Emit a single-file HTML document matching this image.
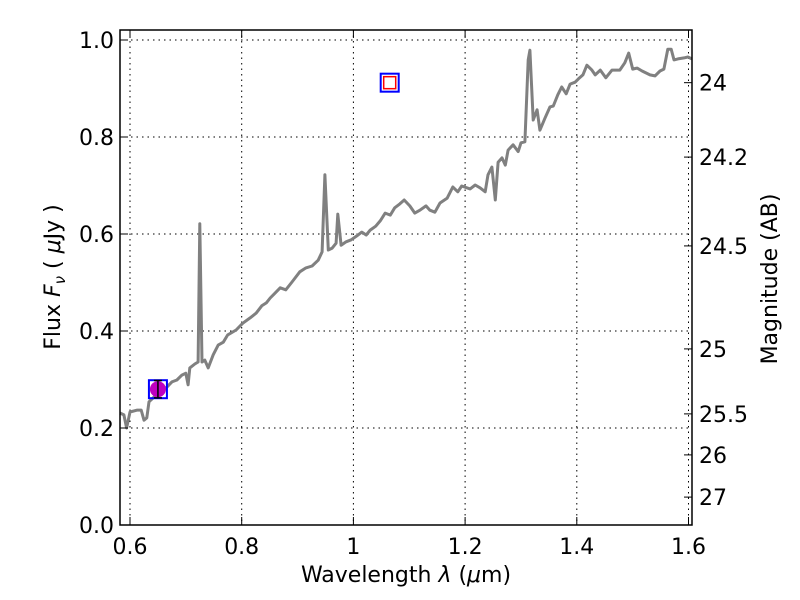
<!DOCTYPE html>
<html><head><meta charset="utf-8"><style>
html,body{margin:0;padding:0;background:#fff;}
svg{display:block;font-family:"DejaVu Sans","Liberation Sans",sans-serif;}
</style></head><body>
<svg id="chart" width="800" height="600" viewBox="0 0 800 600" xmlns="http://www.w3.org/2000/svg">
<rect x="0" y="0" width="800" height="600" fill="#fff"/>
<g id="grid"></g>
<g id="series"></g>
<g id="markers"></g>
<rect x="120" y="30" width="572" height="495" fill="none" stroke="#000" stroke-width="1.5"/>
<g id="axes"></g>
<text x="406" y="582" font-size="22" text-anchor="middle">Wavelength  <tspan font-style="italic">λ</tspan> (<tspan font-style="italic">μ</tspan>m)</text>
<text transform="translate(60,277) rotate(-90)" font-size="22" text-anchor="middle">Flux  <tspan font-style="italic">F</tspan><tspan font-style="italic" font-size="15" dy="5">ν</tspan><tspan dy="-5">  ( </tspan><tspan font-style="italic">μ</tspan>Jy )</text>
<text transform="translate(777,279) rotate(-90)" font-size="22" text-anchor="middle">Magnitude (AB)</text>
</svg>
<script>
const xTicks = [0.6, 0.8, 1.0, 1.2, 1.4, 1.6];
const xTickLabels = ["0.6", "0.8", "1", "1.2", "1.4", "1.6"];
const yTicks = [0, 0.2, 0.4, 0.6, 0.8, 1.0];
const yTickLabels = ["0.0", "0.2", "0.4", "0.6", "0.8", "1.0"];
const magTicks = [24, 24.2, 24.5, 25, 25.5, 26, 27];
const magTickLabels = ["24", "24.2", "24.5", "25", "25.5", "26", "27"];
const specWave = [0.582,0.589,0.594,0.6,0.613,0.620,0.625,0.630,0.634,0.645,0.659,0.675,0.684,0.693,0.700,0.704,0.707,0.716,0.722,0.725,0.729,0.734,0.740,0.749,0.758,0.767,0.775,0.790,0.802,0.815,0.826,0.836,0.844,0.851,0.858,0.869,0.879,0.890,0.904,0.915,0.926,0.937,0.944,0.949,0.955,0.962,0.969,0.972,0.978,0.987,0.996,1.006,1.015,1.023,1.030,1.040,1.048,1.057,1.066,1.074,1.083,1.091,1.101,1.110,1.119,1.130,1.137,1.146,1.155,1.168,1.178,1.187,1.194,1.209,1.218,1.227,1.236,1.241,1.248,1.254,1.259,1.266,1.272,1.277,1.286,1.295,1.300,1.307,1.313,1.316,1.322,1.329,1.334,1.343,1.352,1.358,1.366,1.373,1.381,1.388,1.397,1.403,1.411,1.418,1.427,1.433,1.442,1.452,1.463,1.477,1.486,1.493,1.500,1.508,1.517,1.531,1.540,1.549,1.556,1.563,1.569,1.574,1.581,1.592,1.599,1.606];
const specFlux = [0.231,0.227,0.200,0.233,0.237,0.237,0.216,0.221,0.254,0.266,0.276,0.295,0.299,0.309,0.313,0.289,0.324,0.332,0.336,0.621,0.336,0.340,0.324,0.351,0.371,0.377,0.392,0.402,0.416,0.427,0.437,0.452,0.458,0.468,0.476,0.489,0.485,0.501,0.522,0.530,0.534,0.546,0.563,0.722,0.567,0.571,0.581,0.641,0.577,0.584,0.588,0.596,0.604,0.598,0.608,0.616,0.627,0.643,0.639,0.654,0.662,0.670,0.658,0.643,0.649,0.658,0.649,0.645,0.664,0.674,0.697,0.687,0.699,0.693,0.701,0.695,0.687,0.722,0.738,0.670,0.748,0.757,0.742,0.773,0.784,0.770,0.788,0.790,0.959,0.979,0.835,0.856,0.814,0.839,0.862,0.864,0.887,0.903,0.889,0.909,0.913,0.920,0.928,0.948,0.938,0.928,0.938,0.922,0.938,0.938,0.953,0.973,0.940,0.942,0.936,0.928,0.926,0.936,0.940,0.981,0.981,0.959,0.961,0.963,0.965,0.961];
const photWave = [0.65, 1.065];
const photFlux = [0.28, 0.912];
const photErr = [0.018, 0];
const photMeasured = [true, false];

const NS = "http://www.w3.org/2000/svg";
const X0 = 130, XS = 558.5, Y0 = 525, YS = 485, L = 120, R = 692, T = 30, B = 525;
function sx(v){ return X0 + (v - 0.6) * XS; }
function sy(v){ return Y0 - v * YS; }
function magToFlux(m){ return Math.pow(10, (23.9 - m) / 2.5); }
function mk(tag, attrs, parent){ const e = document.createElementNS(NS, tag); for (const k in attrs) e.setAttribute(k, attrs[k]); parent.appendChild(e); return e; }

const grid = document.getElementById('grid');
const axes = document.getElementById('axes');
xTicks.forEach((t, i) => {
  const x = sx(t);
  const g = mk('line', {x1:x, x2:x, y1:T, y2:B, stroke:'#000', 'stroke-width':1, 'stroke-dasharray':'1.5,4'}, grid);
  
  
  const t1 = mk('line', {x1:x, x2:x, y1:B, y2:B-8, stroke:'#000', 'stroke-width':1}, axes);
  
  
  const t2 = mk('line', {x1:x, x2:x, y1:T, y2:T+8, stroke:'#000', 'stroke-width':1}, axes);
  
  
  const lb = mk('text', {x:x, y:B+29, 'font-size':22, 'text-anchor':'middle'}, axes);
  
  
  lb.textContent = xTickLabels[i];
});
yTicks.forEach((t, i) => {
  const y = sy(t);
  const g = mk('line', {x1:L, x2:R, y1:y, y2:y, stroke:'#000', 'stroke-width':1, 'stroke-dasharray':'1.5,4'}, grid);
  
  
  const t1 = mk('line', {x1:L, x2:L+8, y1:y, y2:y, stroke:'#000', 'stroke-width':1}, axes);
  
  
  const lb = mk('text', {x:L-6, y:y+8, 'font-size':22, 'text-anchor':'end'}, axes);
  
  
  lb.textContent = yTickLabels[i];
});
magTicks.forEach((m, i) => {
  const y = sy(magToFlux(m));
  const t1 = mk('line', {x1:R, x2:R-8, y1:y, y2:y, stroke:'#000', 'stroke-width':1}, axes);
  
  
  const lb = mk('text', {x:R+7, y:y+8, 'font-size':22, 'text-anchor':'start'}, axes);
  
  
  lb.textContent = magTickLabels[i];
});

const series = document.getElementById('series');
const pts = specWave.map((w, i) => Math.max(L, Math.min(R, sx(w))).toFixed(1) + ',' + sy(specFlux[i]).toFixed(1)).join(' ');
const line = mk('polyline', {points:pts, fill:'none', stroke:'#808080', 'stroke-width':3, 'stroke-linejoin':'round'}, series);



const markers = document.getElementById('markers');
photWave.forEach((w, i) => {
  const x = sx(w), y = sy(photFlux[i]);
  const sq = mk('rect', {x:x-9, y:y-9, width:18, height:18, fill:'none', stroke:'#0000ff', 'stroke-width':2}, markers);
  
  
  if (photMeasured[i]) {
    const c = mk('circle', {cx:x, cy:y, r:8, fill:'#bf00bf'}, markers);
    
    
    const e1 = sy(photFlux[i] + photErr[i]), e2 = sy(photFlux[i] - photErr[i]);
    const eb = mk('path', {d:`M${x},${e1}V${e2}M${x-4},${e1}H${x+4}M${x-4},${e2}H${x+4}`, stroke:'#000', 'stroke-width':1.5, fill:'none'}, markers);
    
    
  } else {
    const r = mk('rect', {x:x-6, y:y-6, width:12, height:12, fill:'none', stroke:'#ff0000', 'stroke-width':1.5}, markers);
    
    
  }
});
</script>
</body></html>
